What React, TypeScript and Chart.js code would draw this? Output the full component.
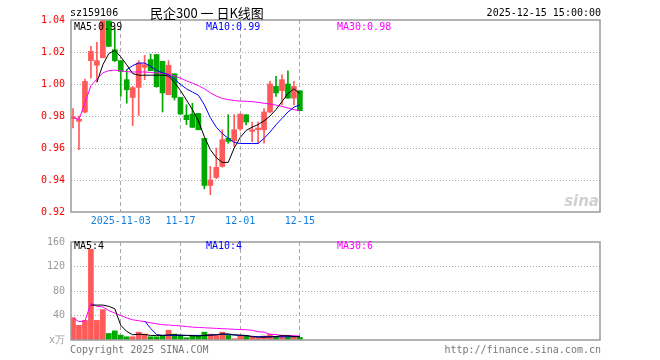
import React, { useEffect, useRef } from "react";
import { Chart, registerables } from "chart.js";

Chart.register(...registerables);

// ---------- data ----------
const dates = [
  "2025-10-22", "2025-10-23", "2025-10-24", "2025-10-27", "2025-10-28", "2025-10-29", "2025-10-30", "2025-10-31",
  "2025-11-03", "2025-11-04", "2025-11-05", "2025-11-06", "2025-11-07", "2025-11-10", "2025-11-11", "2025-11-12",
  "2025-11-13", "2025-11-14", "2025-11-17", "2025-11-18", "2025-11-19", "2025-11-20", "2025-11-21", "2025-11-24",
  "2025-11-25", "2025-11-26", "2025-11-27", "2025-11-28", "2025-12-01", "2025-12-02", "2025-12-03", "2025-12-04",
  "2025-12-05", "2025-12-08", "2025-12-09", "2025-12-10", "2025-12-11", "2025-12-12", "2025-12-15",
];
const tickDates = ["2025-11-03", "2025-11-17", "2025-12-01", "2025-12-15"];

const opens = [
  0.9785, 0.9767, 0.9825, 1.0146, 1.0117, 1.0164, 1.0395, 1.0214, 1.0146, 1.0027,
  0.9916, 0.9979, 1.0104, 1.0152, 1.0184, 1.0142, 0.9933, 1.0064, 0.9916, 0.9805,
  0.9812, 0.9816, 0.966, 0.9366, 0.9416, 0.9485, 0.966, 0.9645, 0.972, 0.9808,
  0.9704, 0.9714, 0.9714, 0.9825, 0.9985, 0.9958, 1.0, 0.9912, 0.9958,
];
const closes = [
  0.9795, 0.978, 1.0016, 1.0204, 1.0146, 1.04, 1.0235, 1.0146, 1.0079, 0.9964,
  0.9977, 1.0131, 1.0121, 1.0083, 0.9983, 0.9944, 1.0117, 0.9916, 0.9812, 0.9777,
  0.9729, 0.9714, 0.9366, 0.94, 0.9479, 0.9652, 0.9641, 0.9714, 0.9812, 0.9762,
  0.9714, 0.9725, 0.9825, 1.0, 0.9944, 1.0027, 0.9912, 0.9985, 0.9833,
];
const highs = [
  0.9847, 0.98, 1.003, 1.0235, 1.026, 1.045, 1.043, 1.035, 1.0146, 1.009,
  0.9985, 1.0146, 1.0179, 1.0187, 1.0184, 1.0142, 1.0146, 1.0064, 0.9916, 0.987,
  0.988, 0.9816, 0.966, 0.9485, 0.96, 0.9714, 0.9808, 0.9808, 0.9812, 0.9808,
  0.9762, 0.9762, 0.9846, 1.0016, 1.0048, 1.0058, 1.0083, 1.0016, 0.9958,
];
const lows = [
  0.9725, 0.959, 0.982, 1.0037, 1.0016, 1.0164, 1.0235, 1.014, 0.9923, 0.988,
  0.974, 0.9804, 1.0027, 1.0083, 0.998, 0.9825, 0.9933, 0.99, 0.981, 0.9746,
  0.9729, 0.9714, 0.9345, 0.9308, 0.9408, 0.948, 0.963, 0.961, 0.971, 0.9745,
  0.964, 0.963, 0.963, 0.982, 0.9923, 0.987, 0.991, 0.987, 0.9833,
];
const ma5 = [
  null, null, null, null, 1.001, 1.012, 1.019, 1.021, 1.017, 1.012,
  1.0065, 1.0055, 1.0055, 1.0055, 1.0055, 1.0055, 1.005, 1.001, 0.996, 0.99,
  0.984, 0.977, 0.967, 0.959, 0.954, 0.951, 0.951, 0.96, 0.9665, 0.971,
  0.973, 0.9746, 0.977, 0.98, 0.984, 0.989, 0.994, 0.997, 0.994,
];
const ma10 = [
  null, null, null, null, null, null, null, null, null, 1.009,
  1.0115, 1.0131, 1.0131, 1.011, 1.0085, 1.007, 1.0058, 1.003, 0.9998, 0.997,
  0.995, 0.993, 0.987, 0.979, 0.973, 0.969, 0.966, 0.9635, 0.9628, 0.9628,
  0.9628, 0.9628, 0.966, 0.97, 0.9745, 0.9785, 0.9825, 0.9855, 0.987,
];
const ma30 = [
  0.979, 0.978, 0.988, 0.999, 1.003, 1.007, 1.0083, 1.0087, 1.0082, 1.0077,
  1.0075, 1.0075, 1.0075, 1.0072, 1.0069, 1.0066, 1.0062, 1.005, 1.0037, 1.002,
  1.0005, 0.999, 0.997, 0.9945, 0.9925, 0.991, 0.9902, 0.9897, 0.9893, 0.9892,
  0.989, 0.9885, 0.988, 0.9875, 0.9868, 0.986, 0.985, 0.984, 0.9833,
];

const volumes = [
  36.3, 24, 32, 148, 32, 49.6, 10.7, 14.9, 8, 5.3,
  5.3, 12.8, 9.6, 5.3, 5.3, 7.5, 16, 9.6, 7.5, 3.7,
  7.5, 6.4, 12.8, 9.6, 7.5, 12.8, 7.5, 2.1, 6.4, 6.4,
  4.3, 3.2, 6.4, 9.6, 5.3, 7.5, 6.4, 5.3, 4.3,
];
const vma5 = [
  null, null, null, 57, 57, 57, 55, 51, 24, 14,
  8.5, 9.5, 9, 7.5, 7.5, 7.5, 8.5, 8.5, 8, 7.5,
  7, 6.5, 7.5, 8, 8.5, 10, 10, 8.5, 8, 7.5,
  5.3, 4.5, 4.5, 5, 5.8, 7, 7, 5.5, 5.5,
];
const vma10 = [
  null, null, null, null, null, null, null, null, null, null,
  null, null, 31, 19, 9, 7.5, 7.5, 7.5, 7.5, 7.5,
  7.5, 7.5, 7.5, 8, 8.5, 9.5, 9, 8, 7.5, 7,
  6, 5.5, 5.5, 5.3, 5.3, 5.3, 5.3, 5.5, 5.5,
];
const vma30 = [
  36, 30, 31, 60, 55, 54, 48, 44, 40, 36,
  33, 31.5, 30, 28, 26.5, 25, 24.5, 23.5, 23, 22,
  21, 20.5, 20, 19.5, 19, 18.5, 18, 17.5, 17, 16.8,
  16, 13.5, 13, 9, 9, 7.5, 7.5, 7, 6.4,
];

const priceTicks = [0.92, 0.94, 0.96, 0.98, 1.0, 1.02, 1.04];
const volTicks = [0, 40, 80, 120, 160];

const maLabels = ["MA5:0.99", "MA10:0.99", "MA30:0.98"];
const volMaLabels = ["MA5:4", "MA10:4", "MA30:6"];

// ---------- styles ----------
const RED = "#ff5a5a";
const GREEN = "#00a800";
const MA_COLORS = ["#000000", "#0000ff", "#ff00ff"];
const GRID = "#a8a8a8";
const MONO = "'DejaVu Sans Mono', monospace";
const X_MIN = -0.335;
const X_MAX = 88.27;

const idx = dates.map((_, i) => i);
const tickIdx = tickDates.map((d) => dates.indexOf(d));
const barColors = idx.map((i) => (closes[i] >= opens[i] ? RED : GREEN));

const boxPlugin = {
  id: "box",
  afterDatasetsDraw(chart: any) {
    const { ctx, chartArea: a } = chart;
    ctx.save();
    ctx.strokeStyle = "#9a9a9a";
    ctx.lineWidth = 1.5;
    ctx.strokeRect(a.left, a.top, a.right - a.left, a.bottom - a.top);
    ctx.restore();
  },
};

function lineDs(label: string, values: (number | null)[], color: string) {
  return {
    type: "line" as const,
    label,
    data: values.map((v, i) => ({ x: i, y: v })),
    borderColor: color,
    borderWidth: 1,
    pointRadius: 0,
    tension: 0,
    spanGaps: false,
    order: 0,
  };
}

function xScale(showLabels: boolean) {
  return {
    type: "linear" as const,
    min: X_MIN,
    max: X_MAX,
    offset: false,
    bounds: "data" as const,
    afterBuildTicks: (s: any) => {
      s.ticks = tickIdx.map((v) => ({ value: v }));
    },
    afterFit: (s: any) => {
      s.height = showLabels ? 18 : 0;
    },
    ticks: {
      display: showLabels,
      autoSkip: false,
      maxRotation: 0,
      padding: 3,
      color: "#1080e0",
      font: { family: MONO, size: 10 },
      callback: (v: any) => {
        const k = tickIdx.indexOf(v);
        if (k < 0) return "";
        return k === 0 ? tickDates[k] : tickDates[k].slice(5);
      },
    },
    grid: { color: GRID, lineWidth: 1, drawTicks: false, offset: false },
    border: { display: false, dash: [4, 3] },
  };
}

function priceConfig(): any {
  return {
    type: "bar",
    data: {
      datasets: [
        lineDs("MA5", ma5, MA_COLORS[0]),
        lineDs("MA10", ma10, MA_COLORS[1]),
        lineDs("MA30", ma30, MA_COLORS[2]),
        {
          type: "bar",
          label: "body",
          data: idx.map((i) => ({ x: i, y: [opens[i], closes[i]] })),
          backgroundColor: barColors,
          barThickness: 5,
          grouped: false,
          minBarLength: 1,
          order: 2,
        },
        {
          type: "bar",
          label: "wick",
          data: idx.map((i) => ({ x: i, y: [lows[i], highs[i]] })),
          backgroundColor: barColors,
          barThickness: 1,
          grouped: false,
          order: 3,
        },
      ],
    },
    options: {
      responsive: false,
      animation: false,
      layout: { padding: { top: 20, right: 60, bottom: 0, left: 0 } },
      plugins: { legend: { display: false }, tooltip: { enabled: false } },
      scales: {
        x: xScale(true),
        y: {
          min: priceTicks[0],
          max: priceTicks[priceTicks.length - 1],
          afterBuildTicks: (s: any) => {
            s.ticks = priceTicks.map((v) => ({ value: v }));
          },
          afterFit: (s: any) => {
            s.width = 71;
          },
          ticks: {
            color: "#ff0000",
            padding: 6,
            font: { family: MONO, size: 10 },
            callback: (v: any) => Number(v).toFixed(2),
          },
          grid: {
            drawTicks: false,
            lineWidth: 1,
            color: (c: any) =>
              c.tick && (c.tick.value === priceTicks[0] || c.tick.value === priceTicks[priceTicks.length - 1])
                ? "rgba(0,0,0,0)"
                : GRID,
          },
          border: { display: false, dash: [1, 2] },
        },
      },
    },
    plugins: [boxPlugin],
  };
}

function volConfig(): any {
  return {
    type: "bar",
    data: {
      datasets: [
        lineDs("MA5", vma5, MA_COLORS[0]),
        lineDs("MA10", vma10, MA_COLORS[1]),
        lineDs("MA30", vma30, MA_COLORS[2]),
        {
          type: "bar",
          label: "vol",
          data: idx.map((i) => ({ x: i, y: volumes[i] })),
          backgroundColor: barColors,
          barThickness: 5,
          grouped: false,
          order: 2,
        },
      ],
    },
    options: {
      responsive: false,
      animation: false,
      layout: { padding: { top: 10, right: 60, bottom: 20, left: 0 } },
      plugins: { legend: { display: false }, tooltip: { enabled: false } },
      scales: {
        x: xScale(false),
        y: {
          min: volTicks[0],
          max: volTicks[volTicks.length - 1],
          afterBuildTicks: (s: any) => {
            s.ticks = volTicks.map((v) => ({ value: v }));
          },
          afterFit: (s: any) => {
            s.width = 71;
          },
          ticks: {
            color: "#9a9a9a",
            padding: 6,
            font: { family: MONO, size: 10 },
            callback: (v: any) => (v === 0 ? "x万" : String(v)),
          },
          grid: {
            drawTicks: false,
            lineWidth: 1,
            color: (c: any) =>
              c.tick && (c.tick.value === volTicks[0] || c.tick.value === volTicks[volTicks.length - 1])
                ? "rgba(0,0,0,0)"
                : GRID,
          },
          border: { display: false, dash: [1, 2] },
        },
      },
    },
    plugins: [boxPlugin],
  };
}

function Txt(props: { x: number; y: number; color?: string; size?: number; family?: string; align?: "left" | "right"; children: React.ReactNode; style?: any }) {
  const { x, y, color = "#000", size = 10, family = MONO, align = "left", children, style } = props;
  const pos: any = align === "right" ? { right: 660 - x } : { left: x };
  return (
    <div
      style={{
        position: "absolute",
        top: y,
        ...pos,
        color,
        fontSize: size,
        fontFamily: family,
        lineHeight: "12px",
        whiteSpace: "nowrap",
        ...style,
      }}
    >
      {children}
    </div>
  );
}

export default function App() {
  const priceRef = useRef<HTMLCanvasElement>(null);
  const volRef = useRef<HTMLCanvasElement>(null);

  useEffect(() => {
    const c1 = new Chart(priceRef.current as HTMLCanvasElement, priceConfig());
    const c2 = new Chart(volRef.current as HTMLCanvasElement, volConfig());
    return () => {
      c1.destroy();
      c2.destroy();
    };
  }, []);

  return (
    <div style={{ position: "absolute", left: 0, top: 0, width: 660, height: 360, background: "#fff", overflow: "hidden" }}>
      <canvas ref={priceRef} width={660} height={230} style={{ position: "absolute", left: 0, top: 0, display: "block" }} />
      <canvas ref={volRef} width={660} height={130} style={{ position: "absolute", left: 0, top: 230, display: "block" }} />

      <Txt x={70} y={7}>sz159106</Txt>
      <Txt x={150} y={5} size={13} family="'Noto Sans CJK SC', sans-serif" style={{ lineHeight: "16px" }}>
        民企300 一 日K线图
      </Txt>
      <Txt x={601} y={7} align="right">2025-12-15 15:00:00</Txt>

      <Txt x={74} y={21} color={MA_COLORS[0]}>{maLabels[0]}</Txt>
      <Txt x={206} y={21} color={MA_COLORS[1]}>{maLabels[1]}</Txt>
      <Txt x={337} y={21} color={MA_COLORS[2]}>{maLabels[2]}</Txt>

      <Txt x={74} y={240} color={MA_COLORS[0]}>{volMaLabels[0]}</Txt>
      <Txt x={206} y={240} color={MA_COLORS[1]}>{volMaLabels[1]}</Txt>
      <Txt x={337} y={240} color={MA_COLORS[2]}>{volMaLabels[2]}</Txt>

      <Txt
        x={599}
        y={193}
        align="right"
        color="#d0d0d0"
        size={15}
        family="'DejaVu Sans', sans-serif"
        style={{ fontStyle: "italic", fontWeight: "bold", lineHeight: "16px" }}
      >
        sina
      </Txt>

      <Txt x={70} y={344} color="#777">Copyright 2025 SINA.COM</Txt>
      <Txt x={601} y={344} align="right" color="#777">http://finance.sina.com.cn</Txt>
    </div>
  );
}
